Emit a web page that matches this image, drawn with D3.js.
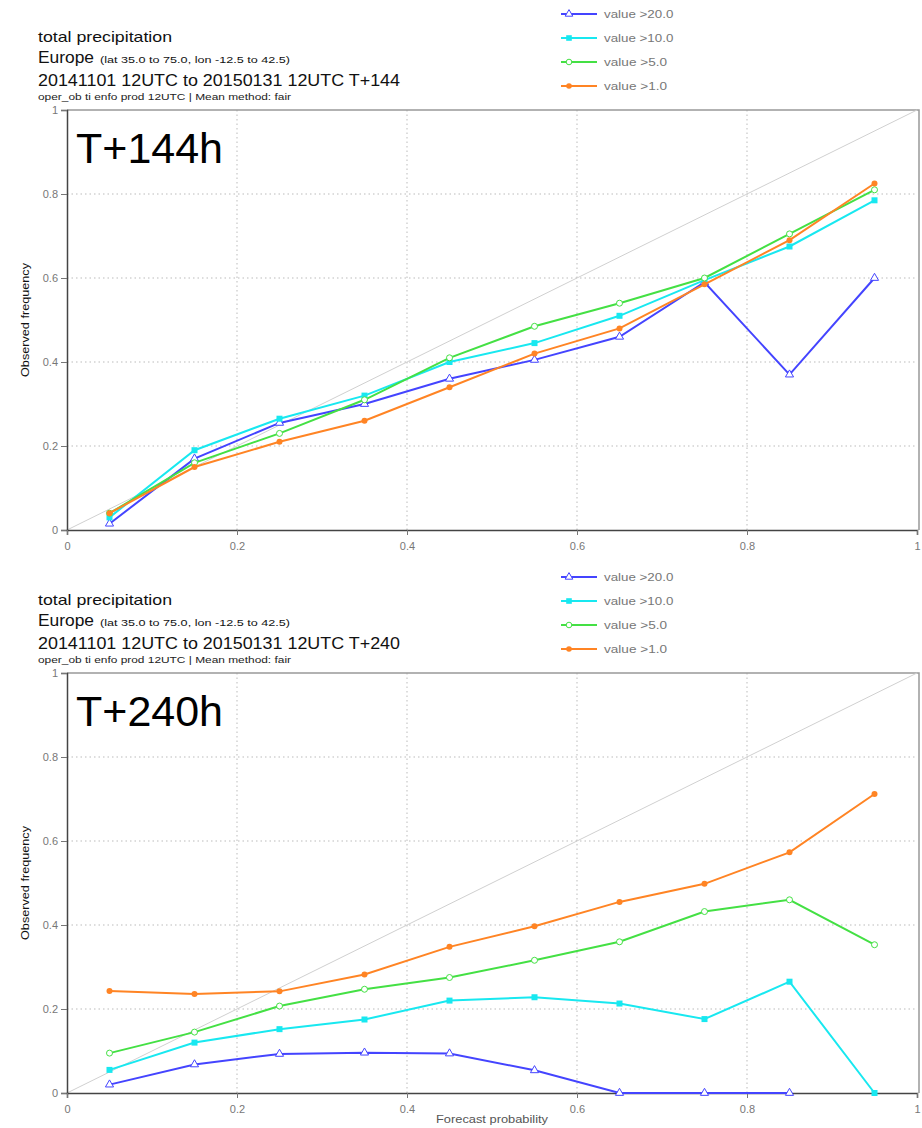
<!DOCTYPE html>
<html>
<head>
<meta charset="utf-8">
<script src="https://cdn.jsdelivr.net/npm/d3@7"></script>
<style>
body { margin: 0; background: #fff; }
svg text { font-family: "Liberation Sans", Arial, sans-serif; }
</style>
</head>
<body>
<svg id="chart" width="922" height="1128"></svg>
<script>
const probs = [0.05, 0.15, 0.25, 0.35, 0.45, 0.55, 0.65, 0.75, 0.85, 0.95];
const ticks = [0, 0.2, 0.4, 0.6, 0.8, 1];
const seriesNames = ["value >20.0", "value >10.0", "value >5.0", "value >1.0"];

// T+144
const p1_gt20 = [0.015, 0.17, 0.255, 0.30, 0.36, 0.405, 0.46, 0.59, 0.37, 0.60];
const p1_gt10 = [0.03, 0.19, 0.265, 0.32, 0.40, 0.445, 0.51, 0.595, 0.675, 0.785];
const p1_gt5 = [0.04, 0.16, 0.23, 0.31, 0.41, 0.485, 0.54, 0.60, 0.705, 0.81];
const p1_gt1 = [0.04, 0.15, 0.21, 0.26, 0.34, 0.42, 0.48, 0.585, 0.69, 0.825];

// T+240
const p2_gt20 = [0.02, 0.068, 0.093, 0.096, 0.094, 0.054, 0.0, 0.0, 0.0, null];
const p2_gt10 = [0.055, 0.12, 0.152, 0.175, 0.22, 0.228, 0.213, 0.176, 0.265, 0.0];
const p2_gt5 = [0.095, 0.145, 0.207, 0.247, 0.275, 0.316, 0.36, 0.432, 0.46, 0.353];
const p2_gt1 = [0.243, 0.236, 0.242, 0.282, 0.348, 0.397, 0.455, 0.498, 0.573, 0.712];

const colors = ["#4444ff", "#18e8f0", "#44e044", "#ff8424"];
const markers = ["triangle", "square", "circle", "dot"];

const svg = d3.select("#chart");

function panel(top, lead, label, data, showXLabel) {
    const g = svg.append("g").attr("transform", `translate(0, ${top})`);

    // header text
    g.append("text").attr("x", 38).attr("y", 42).style("font-size", "15px").attr("fill", "#111")
        .attr("textLength", 134).attr("lengthAdjust", "spacingAndGlyphs")
        .text("total precipitation");
    g.append("text").attr("x", 38).attr("y", 63).style("font-size", "16px").attr("fill", "#111")
        .attr("textLength", 56).attr("lengthAdjust", "spacingAndGlyphs").text("Europe");
    g.append("text").attr("x", 100).attr("y", 63).style("font-size", "8.5px").attr("fill", "#111")
        .attr("textLength", 190).attr("lengthAdjust", "spacingAndGlyphs")
        .text("(lat  35.0 to 75.0,  lon  -12.5 to  42.5)");
    g.append("text").attr("x", 38).attr("y", 86).style("font-size", "16px").attr("fill", "#111")
        .attr("textLength", 362).attr("lengthAdjust", "spacingAndGlyphs")
        .text(`20141101 12UTC to 20150131 12UTC ${lead}`);
    g.append("text").attr("x", 38).attr("y", 100).style("font-size", "8.5px").attr("fill", "#222")
        .attr("textLength", 253).attr("lengthAdjust", "spacingAndGlyphs")
        .text("oper_ob ti enfo prod 12UTC | Mean method: fair");

    // legend
    seriesNames.forEach(function(name, i) {
        const ly = 14 + i * 24;
        g.append("line").attr("x1", 561).attr("x2", 597).attr("y1", ly).attr("y2", ly)
            .attr("stroke", colors[i]).attr("stroke-width", 2);
        drawMarker(g, markers[i], 569, ly, colors[i], 2.8);
        g.append("text").attr("x", 604).attr("y", ly + 4).style("font-size", "10.5px")
            .attr("fill", "#777").attr("textLength", name.length * 6.3)
            .attr("lengthAdjust", "spacingAndGlyphs").text(name);
    });

    const x = d3.scaleLinear().domain([0, 1]).range([67, 917]);
    const y = d3.scaleLinear().domain([0, 1]).range([530, 110]);

    // grid
    g.append("g").selectAll("line").data(ticks.slice(1, 5)).enter().append("line")
        .attr("x1", d => x(d)).attr("x2", d => x(d)).attr("y1", y(0)).attr("y2", y(1))
        .attr("stroke", "#bbb").attr("stroke-dasharray", "1.5,3");
    g.append("g").selectAll("line").data(ticks.slice(1, 5)).enter().append("line")
        .attr("x1", x(0)).attr("x2", x(1)).attr("y1", d => y(d)).attr("y2", d => y(d))
        .attr("stroke", "#bbb").attr("stroke-dasharray", "1.5,3");
    // frame top / right
    g.append("path")
        .attr("d", `M${x(0)},${y(1)}H${x(1) + 2}V${y(0)}`)
        .attr("fill", "none").attr("stroke", "#999").attr("stroke-width", 1.5);

    // diagonal
    g.append("line").attr("x1", x(0)).attr("y1", y(0)).attr("x2", x(1)).attr("y2", y(1))
        .attr("stroke", "#d0d0d0").attr("stroke-width", 1);

    // axes
    const yAxis = g.append("g").attr("transform", `translate(${x(0)}, 0)`)
        .call(d3.axisLeft(y).tickValues(ticks).tickFormat(d3.format("")).tickSize(6));
    const xAxis = g.append("g").attr("transform", `translate(0, ${y(0)})`)
        .call(d3.axisBottom(x).tickValues(ticks).tickFormat(d3.format("")).tickSize(5));
    [yAxis, xAxis].forEach(function(a) {
        a.select(".domain").attr("stroke", "#444").attr("stroke-width", 1.5);
        a.selectAll(".tick line").attr("stroke", "#777");
        a.selectAll(".tick text").attr("fill", "#777").style("font-size", "11px")
            .style("font-family", "'Liberation Sans', Arial, sans-serif");
    });
    xAxis.selectAll(".tick text").attr("y", 20).attr("dy", 0);

    g.append("text").attr("transform", `translate(29, ${(y(0) + y(1)) / 2}) rotate(-90)`)
        .attr("text-anchor", "middle").style("font-size", "10px").attr("fill", "#111")
        .attr("textLength", 114).attr("lengthAdjust", "spacingAndGlyphs")
        .text("Observed frequency");
    if (showXLabel) {
        g.append("text").attr("x", (x(0) + x(1)) / 2).attr("y", 560).attr("text-anchor", "middle")
            .style("font-size", "11px").attr("fill", "#555")
            .attr("textLength", 112).attr("lengthAdjust", "spacingAndGlyphs")
            .text("Forecast probability");
    }

    // series
    const lineGen = d3.line().defined(d => d[1] !== null).x(d => x(d[0])).y(d => y(d[1]));
    data.forEach(function(vals, i) {
        const pts = probs.map((p, j) => [p, vals[j]]);
        g.append("path").datum(pts).attr("d", lineGen).attr("fill", "none")
            .attr("stroke", colors[i]).attr("stroke-width", 2);
        pts.filter(d => d[1] !== null).forEach(function(d) {
            drawMarker(g, markers[i], x(d[0]), y(d[1]), colors[i], 3);
        });
    });

    // big label
    g.append("text").attr("x", 76).attr("y", 163).style("font-size", "43px").attr("fill", "#000")
        .text(label);
}

function drawMarker(g, type, cx, cy, color, r) {
    if (type === "triangle") {
        g.append("path").attr("d", d3.symbol().type(d3.symbolTriangle).size(r * r * 3.2)())
            .attr("transform", `translate(${cx}, ${cy})`).attr("fill", "#fff")
            .attr("stroke", color).attr("stroke-width", 1);
    } else if (type === "square") {
        g.append("rect").attr("x", cx - r).attr("y", cy - r).attr("width", r * 2).attr("height", r * 2)
            .attr("fill", color);
    } else if (type === "circle") {
        g.append("circle").attr("cx", cx).attr("cy", cy).attr("r", r)
            .attr("fill", "#fff").attr("stroke", color).attr("stroke-width", 1);
    } else {
        g.append("circle").attr("cx", cx).attr("cy", cy).attr("r", r).attr("fill", color);
    }
}

panel(0, "T+144", "T+144h", [p1_gt20, p1_gt10, p1_gt5, p1_gt1], false);
panel(563, "T+240", "T+240h", [p2_gt20, p2_gt10, p2_gt5, p2_gt1], true);
</script>
</body>
</html>
